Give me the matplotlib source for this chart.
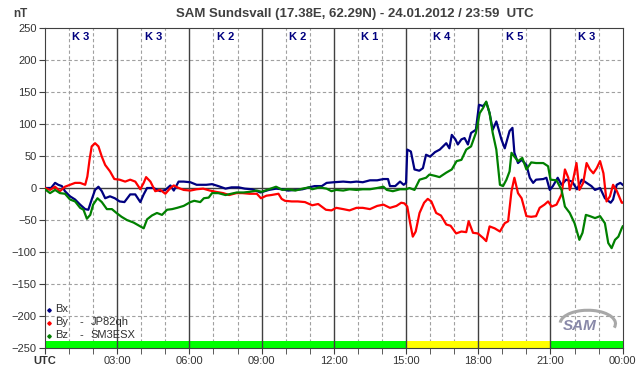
import numpy as np
import matplotlib
matplotlib.use("Agg")
import matplotlib.pyplot as plt
from matplotlib.patches import Arc

plt.rcParams['font.family'] = ['Liberation Sans', 'DejaVu Sans']

# - Data - #
bx_t = [0, 0.25, 0.42, 0.55, 0.7, 0.83, 1.04, 1.25, 1.46, 1.67, 1.8, 1.94, 2.08, 2.22, 2.36, 2.5, 2.7, 2.9,
        3.1, 3.3, 3.54, 3.75, 3.96, 4.1, 4.24, 4.5, 4.79, 5.0, 5.21, 5.35, 5.55, 5.76, 6.04, 6.3, 6.7, 6.94,
        7.2, 7.5, 7.75, 8.05, 8.3, 8.6, 8.95, 9.3, 9.6, 9.86, 10.1, 10.4, 10.7, 10.97, 11.2, 11.5, 11.7, 12.0,
        12.39, 12.7, 12.94, 13.2, 13.5, 13.8, 14.06, 14.25, 14.33, 14.55, 14.75, 14.9, 15.0, 15.05, 15.2,
        15.35, 15.55, 15.7, 15.83, 16.0, 16.2, 16.4, 16.67, 16.8, 16.9, 17.05, 17.15, 17.3, 17.43, 17.57,
        17.7, 17.9, 18.03, 18.2, 18.33, 18.47, 18.6, 18.75, 18.85, 18.96, 19.1, 19.3, 19.42, 19.5, 19.65,
        19.8, 20.0, 20.14, 20.28, 20.4, 20.7, 20.83, 20.97, 21.1, 21.3, 21.46, 21.65, 21.9, 22.1, 22.3, 22.5,
        22.7, 22.85, 23.06, 23.26, 23.5, 23.6, 23.75, 23.9, 24.0]
bx_v = [0, 0, 8, 5, 3, -5, -13, -18, -26, -33, -34, -18, -3, 2, -5, -16, -13, -16,
        -21, -22, -10, -10, -22, -10, 0, 0, -5, -3, 4, -4, 10, 10, 9, 5, 5, 6,
        3, -1, 1, 1, -1, -2, -7, -3, -1, -2, -4, -3, -2, 1, 3, 3, 8, 9,
        10, 9, 10, 9, 12, 12, 14, 14, 3, 3, 10, 5, 8, 60, 57,
        29, 27, 31, 52, 49, 56, 60, 70, 62, 83, 76, 68, 76, 78, 68,
        86, 91, 130, 128, 134, 117, 91, 104, 91, 76, 62, 89, 94, 55, 39,
        44, 36, 16, 8, 13, 14, 16, -3, 3, 16, 5, 13, 10, -2, 13, 8,
        3, -3, 0, -16, -23, -18, 5, 8, 5]

by_t = [0, 0.21, 0.42, 0.62, 0.83, 1.04, 1.25, 1.46, 1.67, 1.76, 1.85, 1.94, 2.08, 2.22, 2.36, 2.5, 2.7,
        2.88, 3.1, 3.33, 3.54, 3.75, 3.96, 4.1, 4.2, 4.38, 4.58, 4.79, 5.0, 5.21, 5.35, 5.55, 5.76, 6.04,
        6.3, 6.57, 6.85, 7.1, 7.4, 7.65, 7.95, 8.2, 8.5, 8.8, 8.97, 9.2, 9.4, 9.7, 9.83, 9.97, 10.25, 10.5,
        10.8, 11.1, 11.35, 11.67, 11.9, 12.1, 12.39, 12.65, 12.94, 13.2, 13.5, 13.8, 14.06, 14.33, 14.6,
        14.8, 14.93, 15.05, 15.17, 15.28, 15.4, 15.56, 15.75, 15.9, 16.05, 16.25, 16.45, 16.67, 16.85,
        17.08, 17.3, 17.5, 17.6, 17.78, 17.98, 18.2, 18.33, 18.47, 18.68, 18.9, 19.1, 19.24, 19.38, 19.5,
        19.65, 19.8, 20.0, 20.2, 20.4, 20.55, 20.75, 20.9, 21.05, 21.25, 21.46, 21.6, 21.74, 21.8, 21.94,
        22.08, 22.2, 22.36, 22.5, 22.64, 22.78, 22.92, 23.06, 23.2, 23.33, 23.47, 23.6, 23.76, 23.96, 24.0]
by_v = [0, -3, 2, -5, 2, 5, 8, 8, 5, 18, 44, 65, 70, 65, 49, 36, 26,
        14, 13, 10, 13, 10, -2, 8, 17, 10, -5, -3, -9, 0, 4, 0, -3, -4,
        -2, -1, -4, -6, -8, -11, -8, -8, -9, -9, -16, -12, -11, -9, -17, -20, -21, -21,
        -22, -27, -25, -34, -35, -31, -33, -35, -31, -31, -33, -28, -26, -31, -28,
        -23, -24, -29, -55, -76, -68, -39, -23, -17, -21, -39, -43, -57, -59,
        -71, -68, -69, -52, -70, -71, -78, -83, -60, -63, -68, -55, -52, -5, 16,
        -8, -16, -44, -45, -44, -31, -26, -21, -29, -26, -10, 29, 16, -3, 13,
        39, -3, 8, 39, 29, 23, 31, 42, 23, -21, -13, 5, -5, -23, -23]

bz_t = [0, 0.21, 0.42, 0.62, 0.83, 1.04, 1.25, 1.46, 1.6, 1.74, 1.88, 2.0, 2.18, 2.36, 2.57, 2.78, 2.97,
        3.18, 3.4, 3.68, 3.96, 4.1, 4.24, 4.44, 4.65, 4.86, 5.07, 5.28, 5.49, 5.76, 6.04, 6.2, 6.45, 6.6,
        6.8, 6.94, 7.2, 7.5, 7.97, 8.25, 8.5, 8.8, 9.0, 9.3, 9.6, 9.86, 10.1, 10.4, 10.7, 10.97, 11.1, 11.4,
        11.7, 11.9, 12.1, 12.39, 12.65, 12.94, 13.2, 13.5, 13.8, 14.06, 14.2, 14.45, 14.75, 15.0, 15.14,
        15.35, 15.56, 15.83, 15.97, 16.2, 16.39, 16.67, 16.9, 17.1, 17.3, 17.5, 17.7, 17.9, 18.06, 18.2,
        18.33, 18.47, 18.6, 18.75, 18.9, 19.03, 19.17, 19.3, 19.38, 19.5, 19.65, 19.83, 20.0, 20.2, 20.4,
        20.7, 20.9, 21.0, 21.25, 21.46, 21.6, 21.8, 22.0, 22.2, 22.33, 22.47, 22.64, 22.85, 23.06, 23.26,
        23.4, 23.54, 23.68, 23.82, 23.96, 24.0]
bz_v = [-2, -8, -3, -8, -9, -18, -21, -31, -34, -48, -42, -26, -16, -22, -33, -33, -39,
        -45, -50, -54, -60, -63, -49, -43, -39, -42, -34, -33, -31, -28, -22, -20, -22, -16,
        -15, -8, -8, -11, -7, -7, -6, -4, -6, -2, 2, -3, -2, -4, -1, 1, -2, 1,
        -1, -5, -3, -4, -2, -3, -2, -2, 0, 2, -3, -5, -2, -2, 0,
        -3, 13, 16, 21, 19, 17, 24, 29, 42, 44, 60, 65, 86, 117, 125,
        135, 117, 86, 60, 5, 3, 13, 26, 55, 49, 42, 47, 29, 40, 39,
        39, 34, 13, 12, -3, -29, -39, -55, -81, -70, -42, -44, -47, -44, -55,
        -86, -94, -81, -76, -63, -60]

k_index = [3, 3, 2, 2, 1, 4, 5, 3]
k_colors = ['#00ff00', '#00ff00', '#00ff00', '#00ff00', '#00ff00', '#ffff00', '#ffff00', '#00ff00']
x_labels = ['UTC', '03:00', '06:00', '09:00', '12:00', '15:00', '18:00', '21:00', '00:00']
names = ['Bx', 'By', 'Bz']
stations = ['', 'JP82qh', 'SM3ESX']
colors = ['#000080', '#ff0000', '#008000']

# - Figure and Axes - #
fig = plt.figure(figsize=(6.42, 3.76), dpi=100)
ax = fig.add_axes([45/642, 28/376, 577.7/642, 320/376])
ax.set_xlim(0, 24); ax.set_ylim(-250, 250)
dark = '#404040'

# - Grid - #
for y in range(-200, 250, 50):
    if y != 0:
        ax.axhline(y, color='#a0a0a0', lw=0.8, ls=(0, (3, 2.2)), zorder=1)
for h in range(1, 24):
    if h % 3:
        ax.axvline(h, color='#a0a0a0', lw=0.8, ls=(0, (3, 2.2)), zorder=1)

# - K index bar - #
starts = np.arange(len(k_index)) * 3
ax.bar(starts, 11, bottom=-250, width=3, align='edge', color=k_colors, zorder=2)
for h in range(3, 24, 3):
    ax.axvline(h, color=dark, lw=1, zorder=3)
ax.axhline(0, color=dark, lw=1, zorder=3)

for s, k in zip(starts, k_index):
    ax.text(s + 1.5, 236, 'K %d' % k, ha='center', va='center', fontsize=8,
            fontweight='bold', color='#00007f', zorder=4)

# - Series - #
for t, v, c in [(bx_t, bx_v, colors[0]), (by_t, by_v, colors[1]), (bz_t, bz_v, colors[2])]:
    ax.plot(t, v, color=c, lw=1.6, zorder=5)

# - Legend - #
for i, (n, st, c) in enumerate(zip(names, stations, colors)):
    y = -189 - i * 20.5
    ax.plot(0.15, y - 1, 'D', ms=1.8, color=c, zorder=6)
    ax.text(0.42, y, n, fontsize=8, color='#303030', va='center', zorder=6)
    if st:
        ax.text(1.45, y, '-', fontsize=8, color='#303030', va='center', zorder=6)
        ax.text(1.91, y, st, fontsize=8, color='#303030', va='center', zorder=6)

# - Logo - #
ax.add_patch(Arc((22.55, -212), 2.3, 42, theta1=-80, theta2=125, color='#a8a8a8', lw=2.2, zorder=6))
ax.text(22.22, -216, 'SAM', fontsize=11, style='italic', fontweight='bold',
        color='#8888a8', ha='center', va='center', zorder=7)

# - Axes style - #
for sp in ax.spines.values():
    sp.set_color(dark)
ax.set_yticks(range(-250, 251, 50))
ax.set_xticks(range(0, 25, 3))
ax.set_xticks(range(0, 25), minor=True)
ax.set_xticklabels(x_labels)
ax.get_xticklabels()[0].set_fontweight('bold')
ax.tick_params(axis='both', which='both', direction='out', length=4, color=dark,
               labelsize=8, labelcolor='#333333', pad=2)

fig.text(20/642, 1 - 14/376, 'nT', fontsize=8.5, fontweight='bold', color=dark, ha='center', va='center')
fig.text(354.5/642, 1 - 14/376, 'SAM Sundsvall (17.38E, 62.29N) - 24.01.2012 / 23:59  UTC',
         fontsize=9.5, fontweight='bold', color=dark, ha='center', va='center')

fig.savefig('out.png', dpi=100)
